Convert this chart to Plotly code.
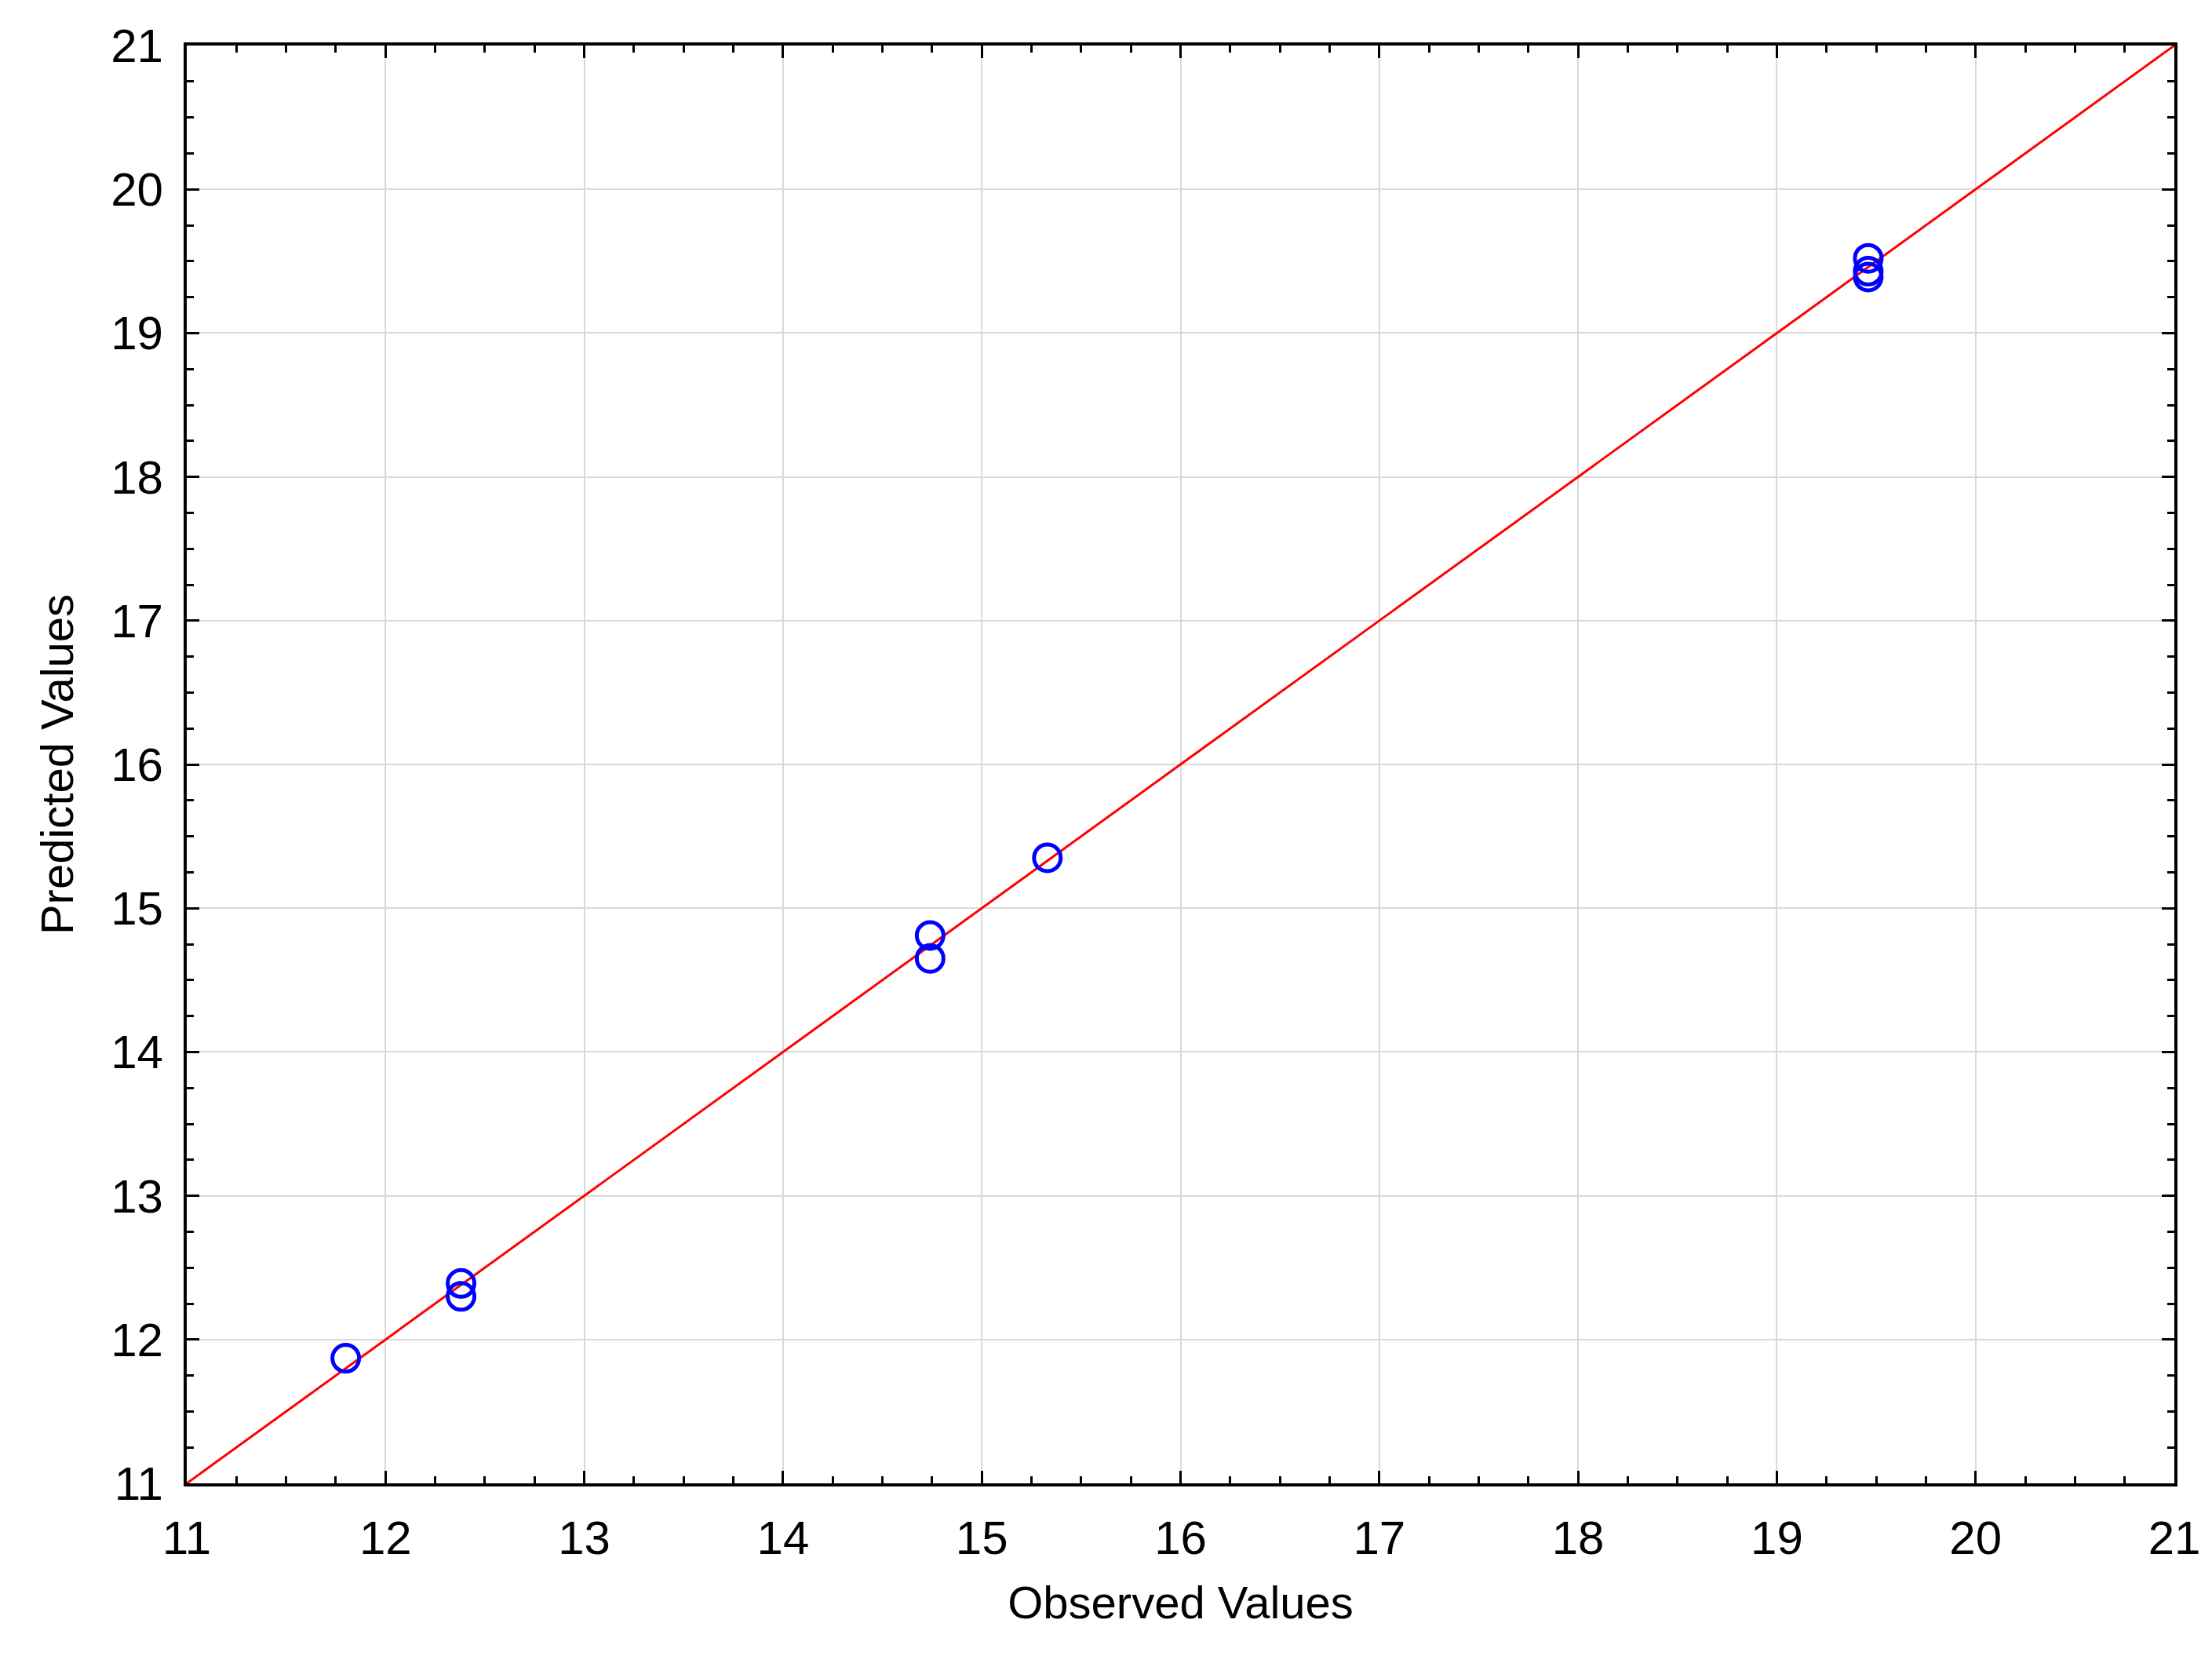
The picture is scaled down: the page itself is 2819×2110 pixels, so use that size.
import plotly.graph_objects as go

observed = [11.8, 12.38, 12.38, 14.74, 14.74, 15.33, 19.46, 19.46, 19.46]
predicted = [11.87, 12.39, 12.30, 14.81, 14.65, 15.35, 19.52, 19.43, 19.39]
line_x = [11, 21]
line_y = [11, 21]

fig = go.Figure()
fig.add_trace(go.Scatter(x=line_x, y=line_y, mode="lines",
                         line=dict(color="#ff0000", width=3), showlegend=False))
fig.add_trace(go.Scatter(x=observed, y=predicted, mode="markers",
                         marker=dict(symbol="circle-open", size=34, color="#0000ff",
                                     line=dict(width=5, color="#0000ff")),
                         showlegend=False))

ax = dict(range=[11, 21], dtick=1, showgrid=True, gridcolor="#d9d9d9", gridwidth=2,
          showline=True, linecolor="black", linewidth=4, mirror="ticks",
          ticks="inside", ticklen=16, tickwidth=3, tickcolor="black",
          ticklabelstandoff=14,
          minor=dict(dtick=0.25, ticks="inside", ticklen=9, tickwidth=3,
                     tickcolor="black", showgrid=False),
          tickfont=dict(size=60, color="black", family="Arial, Liberation Sans"),
          zeroline=False)

fig.update_layout(
    width=2819, height=2110, plot_bgcolor="white", paper_bgcolor="white",
    margin=dict(l=230, r=56, t=50, b=228),
    xaxis=dict(ax, title=dict(text="Observed Values", standoff=30,
                              font=dict(size=58, color="black", family="Arial, Liberation Sans"))),
    yaxis=dict(ax, title=dict(text="Predicted Values", standoff=30,
                              font=dict(size=58, color="black", family="Arial, Liberation Sans"))),
)
fig.write_html("out.html")
